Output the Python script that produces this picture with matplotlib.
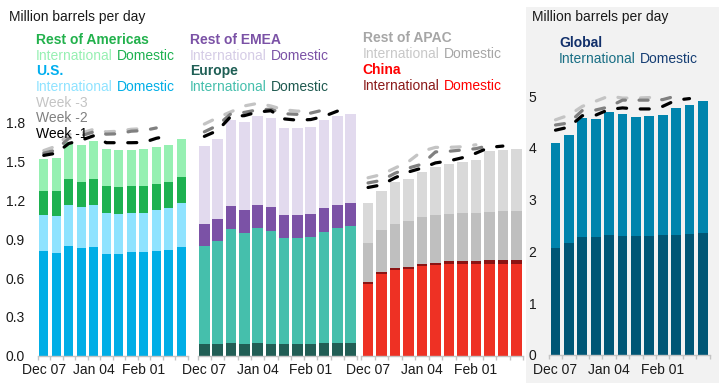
import matplotlib
matplotlib.use("Agg")
import matplotlib.pyplot as plt
from matplotlib.patches import Rectangle
import numpy as np

plt.rcParams['font.family'] = ['Liberation Sans', 'DejaVu Sans']
plt.rcParams['lines.scale_dashes'] = False

W, H, DPI = 719, 383, 100

# ---------------- data ----------------
dates = ["Dec 07", "Dec 14", "Dec 21", "Dec 28", "Jan 04", "Jan 11",
         "Jan 18", "Jan 25", "Feb 01", "Feb 08", "Feb 15", "Feb 22"]

# Americas
us_dom = [0.809, 0.793, 0.847, 0.832, 0.840, 0.785, 0.785, 0.801, 0.801, 0.809, 0.816, 0.840]
us_int = [0.278, 0.286, 0.317, 0.314, 0.324, 0.317, 0.310, 0.301, 0.301, 0.316, 0.325, 0.340]
roa_dom = [0.188, 0.196, 0.201, 0.196, 0.201, 0.209, 0.208, 0.209, 0.209, 0.201, 0.201, 0.200]
roa_int = [0.244, 0.252, 0.286, 0.286, 0.293, 0.286, 0.286, 0.278, 0.286, 0.286, 0.286, 0.294]
amer_wk1 = [1.548, 1.565, 1.64, 1.665, 1.70, 1.646, 1.646, 1.646, 1.648, 1.68, 1.70]
amer_wk2 = [1.565, 1.59, 1.68, 1.70, 1.73, 1.712, 1.715, 1.735, 1.74, 1.76]
amer_wk3 = [1.585, 1.62, 1.71, 1.72, 1.75, 1.73, 1.735, 1.75, 1.755]

# EMEA
eu_dom = [0.090, 0.090, 0.098, 0.090, 0.098, 0.090, 0.090, 0.090, 0.090, 0.098, 0.098, 0.098]
eu_int = [0.760, 0.796, 0.881, 0.858, 0.888, 0.873, 0.819, 0.819, 0.827, 0.857, 0.888, 0.904]
remea_dom = [0.167, 0.170, 0.177, 0.177, 0.178, 0.186, 0.178, 0.178, 0.178, 0.186, 0.178, 0.178]
remea_int = [0.605, 0.618, 0.665, 0.680, 0.688, 0.687, 0.672, 0.672, 0.672, 0.680, 0.688, 0.687]
emea_wk1 = [1.695, 1.74, 1.85, 1.855, 1.883, 1.893, 1.83, 1.82, 1.825, 1.85, 1.89]
emea_wk2 = [1.73, 1.78, 1.87, 1.88, 1.90, 1.905, 1.87, 1.865, 1.875, 1.90]
emea_wk3 = [1.79, 1.84, 1.885, 1.93, 1.95, 1.93, 1.90, 1.89, 1.89]

# APAC
cn_dom = [0.551, 0.628, 0.659, 0.667, 0.690, 0.698, 0.706, 0.706, 0.706, 0.706, 0.706, 0.706]
cn_int = [0.016, 0.016, 0.016, 0.015, 0.016, 0.015, 0.023, 0.023, 0.023, 0.031, 0.031, 0.031]
rapac_dom = [0.301, 0.324, 0.340, 0.356, 0.363, 0.371, 0.363, 0.371, 0.371, 0.370, 0.378, 0.378]
rapac_int = [0.309, 0.302, 0.324, 0.324, 0.347, 0.371, 0.386, 0.394, 0.409, 0.472, 0.477, 0.485]
apac_wk1 = [1.30, 1.32, 1.375, 1.42, 1.45, 1.49, 1.505, 1.53, 1.565, 1.61, 1.62]
apac_wk2 = [1.335, 1.355, 1.41, 1.45, 1.48, 1.575, 1.58, 1.59, 1.60, 1.625]
apac_wk3 = [1.375, 1.40, 1.45, 1.50, 1.58, 1.61, 1.61, 1.615, 1.63]

# Global
gl_dom = [2.072, 2.169, 2.284, 2.284, 2.323, 2.304, 2.304, 2.304, 2.323, 2.323, 2.342, 2.362]
gl_int = [2.027, 2.085, 2.298, 2.278, 2.375, 2.355, 2.297, 2.316, 2.317, 2.452, 2.491, 2.548]
gl_wk1 = [4.34, 4.40, 4.62, 4.63, 4.74, 4.77, 4.75, 4.75, 4.80, 4.92, 4.95]
gl_wk2 = [4.44, 4.48, 4.72, 4.73, 4.79, 4.92, 4.92, 4.92, 4.93, 5.00]
gl_wk3 = [4.54, 4.63, 4.80, 4.90, 5.00, 4.96, 4.96, 4.97, 4.99]

# ---------------- colours ----------------
C_US_DOM, C_US_INT = '#00AEE6', '#8FE3FF'
C_ROA_DOM, C_ROA_INT = '#1DB150', '#96F0B2'
C_EU_DOM, C_EU_INT = '#215E55', '#45BFAC'
C_REM_DOM, C_REM_INT = '#7B52A6', '#E2DAEE'
C_CN_DOM, C_CN_INT = '#EE3124', '#8B1414'
C_RAP_DOM, C_RAP_INT = '#BFBFBF', '#D9D9D9'
C_GL_DOM, C_GL_INT = '#005675', '#0084AD'
WK_COLORS = ['#000000', '#808080', '#C4C4C4']

FS_REG = 10
FS_BOLD = 10

fig = plt.figure(figsize=(W / DPI, H / DPI), dpi=DPI)
fig.patch.set_facecolor('white')
fig.patches.append(Rectangle((525.7 / W, 0), 1 - 525.7 / W, (H - 6.7) / H,
                             transform=fig.transFigure, facecolor='#F2F2F2',
                             edgecolor='none', zorder=-5))


def make_ax(left, right, y0, ytop):
    ax = fig.add_axes([left / W, 1 - y0 / H, (right - left) / W, (y0 - ytop) / H])
    ax.patch.set_alpha(0)
    return ax


def style(ax, ymax, yticks=None, fmt=None):
    n = len(dates)
    ax.set_xlim(-0.5, n - 0.5)
    ax.set_ylim(0, ymax)
    for s in ['top', 'right', 'left']:
        ax.spines[s].set_visible(False)
    ax.spines['bottom'].set_color('#C4C4C4')
    ax.spines['bottom'].set_linewidth(1)
    ax.set_xticks(np.arange(0, n, 4))
    ax.set_xticklabels(dates[::4])
    ax.set_xticks(np.arange(-0.5, n, 1), minor=True)
    ax.tick_params(axis='x', which='major', length=0, pad=5.5, labelsize=10, labelcolor='#1a1a1a')
    ax.tick_params(axis='x', which='minor', length=3, width=1, color='#C4C4C4')
    if yticks is None:
        ax.set_yticks([])
    else:
        ax.set_yticks(yticks)
        ax.set_yticklabels([fmt.format(v) for v in yticks])
        ax.tick_params(axis='y', length=0, pad=9, labelsize=10, labelcolor='#1a1a1a')


def stack(ax, series, colors, width):
    x = np.arange(len(series[0]))
    bottom = np.zeros(len(x))
    for vals, c in zip(series, colors):
        v = np.array(vals)
        ax.bar(x, v, bottom=bottom, width=width, color=c, linewidth=0, zorder=2)
        bottom += v


def weeks(ax, wk_list):
    lw = 2.3
    on, off = 6.5, 9.8
    for vals, c in reversed(list(zip(wk_list, WK_COLORS))):
        x = np.arange(len(vals))
        ax.plot(x, vals, color=c, lw=lw, linestyle=(0, (on, off)),
                dash_capstyle='round', zorder=3, clip_on=False)


y0 = 355.7
ax1 = make_ax(37.5, 187.5, y0, y0 - 2.0 * 129.4)
ax2 = make_ax(197.7, 357.3, y0, y0 - 2.0 * 129.4)
ax3 = make_ax(361.3, 523.1, y0, y0 - 2.0 * 129.4)
ax4 = make_ax(548.8, 709.6, 355.0, 355.0 - 5.3 * 51.8)

stack(ax1, [us_dom, us_int, roa_dom, roa_int], [C_US_DOM, C_US_INT, C_ROA_DOM, C_ROA_INT], 0.75)
weeks(ax1, [amer_wk1, amer_wk2, amer_wk3])
style(ax1, 2.0, [0, 0.3, 0.6, 0.9, 1.2, 1.5, 1.8], '{:.1f}')

stack(ax2, [eu_dom, eu_int, remea_dom, remea_int], [C_EU_DOM, C_EU_INT, C_REM_DOM, C_REM_INT], 0.8)
weeks(ax2, [emea_wk1, emea_wk2, emea_wk3])
style(ax2, 2.0)

stack(ax3, [cn_dom, cn_int, rapac_dom, rapac_int], [C_CN_DOM, C_CN_INT, C_RAP_DOM, C_RAP_INT], 0.79)
weeks(ax3, [apac_wk1, apac_wk2, apac_wk3])
style(ax3, 2.0)

stack(ax4, [gl_dom, gl_int], [C_GL_DOM, C_GL_INT], 0.72)
weeks(ax4, [gl_wk1, gl_wk2, gl_wk3])
style(ax4, 5.3, [0, 1, 2, 3, 4, 5], '{:d}')

# ---------------- legend texts ----------------
renderer = fig.canvas.get_renderer()


def txt(x, y, s, c, bold=False):
    return fig.text(x / W, 1 - y / H, s, color=c, fontsize=FS_BOLD if bold else FS_REG,
                    fontweight='bold' if bold else 'normal', va='baseline', ha='left')


def pair(x, y, c_int, c_dom):
    t = txt(x, y, "International", c_int)
    bb = t.get_window_extent(renderer)
    gap = 0.278 * FS_REG * DPI / 72.0
    txt(bb.x1 + gap, y, "Domestic", c_dom)


txt(9, 21.5, "Million barrels per day", '#1a1a1a')
txt(531.7, 21.5, "Million barrels per day", '#1a1a1a')

rows = [43.8, 59.5, 75.2, 90.9, 106.6, 122.3, 138.0]
txt(36, rows[0], "Rest of Americas", '#22B14C', True)
pair(36, rows[1], C_ROA_INT, C_ROA_DOM)
txt(36, rows[2], "U.S.", '#00AEEF', True)
pair(36, rows[3], C_US_INT, C_US_DOM)
txt(36, rows[4], "Week -3", WK_COLORS[2])
txt(36, rows[5], "Week -2", WK_COLORS[1])
txt(36, rows[6], "Week -1", WK_COLORS[0])

txt(190, rows[0], "Rest of EMEA", C_REM_DOM, True)
pair(190, rows[1], '#D5CCE6', C_REM_DOM)
txt(190, rows[2], "Europe", '#1F5F55', True)
pair(190, rows[3], C_EU_INT, '#1F5A50')

rows3 = [42.5, 58.2, 73.9, 89.6]
txt(362.7, rows3[0], "Rest of APAC", '#A6A6A6', True)
pair(362.7, rows3[1], '#C8C8C8', '#A6A6A6')
txt(362.7, rows3[2], "China", '#FF0000', True)
pair(362.7, rows3[3], '#8B1A1A', '#FF0000')

txt(559, 47.3, "Global", '#12306B', True)
pair(559, 63.0, '#1A6F85', '#163E74')

fig.savefig("out.png", dpi=DPI)
